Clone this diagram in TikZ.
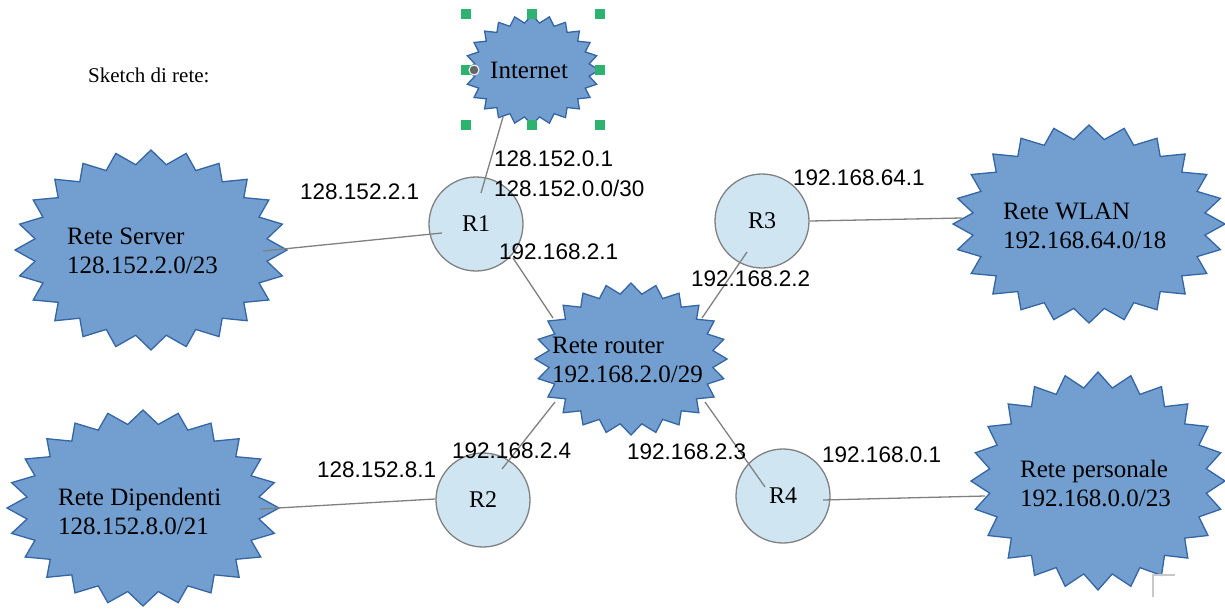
\documentclass[tikz,border=0pt]{standalone}
\usepackage{fontspec}
\setmainfont{Liberation Serif}
\newfontfamily\lsans{Liberation Sans}
\definecolor{starfill}{HTML}{729FCF}
\definecolor{starline}{HTML}{3465A4}
\definecolor{rfill}{HTML}{CFE6F2}
\definecolor{rline}{HTML}{808080}
\definecolor{wire}{HTML}{808080}
\definecolor{handle}{HTML}{2DB36F}
\definecolor{markgray}{HTML}{C8C8C8}
\newcommand\netstar[5]{%
  \begin{scope}[shift={(#1,#2)}]
  \draw[netstarline] (#3,0)
    \foreach \i in {0,...,23} { -- ({0.86*#3*cos(\i*15+7.5)},{0.86*#4*sin(\i*15+7.5)}) -- ({#3*cos(\i*15+15)},{#4*sin(\i*15+15)}) } -- cycle;
  \coordinate (#5) at (0,0);
  \end{scope}}
\newcommand\twolines[2]{\begin{tabular}[t]{@{}l@{}}#1\\#2\end{tabular}}
\tikzset{
  netstarline/.style={fill=starfill, draw=starline, line width=1.3pt, line join=miter},
  router/.style={circle, draw=rline, fill=rfill, line width=1.3pt, minimum size=94pt, inner sep=0pt, font=\fontsize{24}{28}\selectfont},
  wireline/.style={draw=wire, line width=1.3pt},
  nettext/.style={anchor=base west, inner sep=0pt, font=\fontsize{25}{29}\selectfont},
  iplabel/.style={anchor=base west, inner sep=0pt, font=\lsans\fontsize{22.5}{27}\selectfont},
  handlebox/.style={rectangle, fill=handle, minimum size=10pt, inner sep=0pt},
}
\begin{document}
\begin{tikzpicture}[x=1pt,y=-1pt]
\useasboundingbox (0,0) rectangle (1225,608);
% network stars
\netstar{532}{70}{67}{55}{inet}
\netstar{151}{250}{136}{100}{srv}
\netstar{631}{359}{96}{76}{rtr}
\netstar{1089}{224}{136}{99}{wlan}
\netstar{143}{508}{136}{98}{dip}
\netstar{1098}{481}{127}{109}{pers}
% star texts
\node[nettext] (tinet) at (490,78) {Internet};
\node[nettext] (tsrv) at (67,244) {\twolines{Rete Server}{128.152.2.0/23}};
\node[nettext] (trtr) at (552,353) {\twolines{Rete router}{192.168.2.0/29}};
\node[nettext] (twlan) at (1003,219) {\twolines{Rete WLAN}{192.168.64.0/18}};
\node[nettext] (tdip) at (58,505) {\twolines{Rete Dipendenti}{128.152.8.0/21}};
\node[nettext] (tpers) at (1020,477) {\twolines{Rete personale}{192.168.0.0/23}};
% routers
\node[router] (R1) at (476,224) {R1};
\node[router] (R3) at (762,221) {R3};
\node[router] (R2) at (483,500) {R2};
\node[router] (R4) at (783,496) {R4};
% connector ends
\coordinate (inetA) at (503,117);
\coordinate (r1A) at (481,193);
\coordinate (srvA) at (263,251);
\coordinate (r1B) at (442,233);
\coordinate (r1C) at (513,258);
\coordinate (rtrA) at (553,318);
\coordinate (r3A) at (747,252);
\coordinate (rtrB) at (702,318);
\coordinate (r3B) at (810,221);
\coordinate (wlanA) at (962,218);
\coordinate (rtrC) at (555,402);
\coordinate (r2A) at (502,469);
\coordinate (dipA) at (260,509);
\coordinate (r2B) at (435,499);
\coordinate (rtrD) at (705,402);
\coordinate (r4A) at (765,487);
\coordinate (r4B) at (823,500);
\coordinate (persA) at (985,496);
% connectors
\draw[wireline] (inetA) -- (r1A);
\draw[wireline] (srvA) -- (r1B);
\draw[wireline] (r1C) -- (rtrA);
\draw[wireline] (r3A) -- (rtrB);
\draw[wireline] (r3B) -- (wlanA);
\draw[wireline] (rtrC) -- (r2A);
\draw[wireline] (dipA) -- (r2B);
\draw[wireline] (rtrD) -- (r4A);
\draw[wireline] (r4B) -- (persA);
% address labels
\node[iplabel] (l1) at (494,166) {128.152.0.1};
\node[iplabel] (l2) at (494,196) {128.152.0.0/30};
\node[iplabel] (l3) at (300,199) {128.152.2.1};
\node[iplabel] (l4) at (499,259) {192.168.2.1};
\node[iplabel] (l5) at (793,185) {192.168.64.1};
\node[iplabel] (l6) at (691,286) {192.168.2.2};
\node[iplabel] (l7) at (452,458) {192.168.2.4};
\node[iplabel] (l8) at (317,477) {128.152.8.1};
\node[iplabel] (l9) at (627,459) {192.168.2.3};
\node[iplabel] (l10) at (822,462) {192.168.0.1};
% title
\node[anchor=base west, inner sep=0pt, font=\fontsize{21}{25}\selectfont] (title) at (88,82) {Sketch di rete:};
% selection handles around Internet
\node[handlebox] (h1) at (466,14) {};
\node[handlebox] (h2) at (532,14) {};
\node[handlebox] (h3) at (600,14) {};
\node[handlebox] (h4) at (466,70) {};
\node[handlebox] (h5) at (600,70) {};
\node[handlebox] (h6) at (466,125) {};
\node[handlebox] (h7) at (532,125) {};
\node[handlebox] (h8) at (600,125) {};
\node[circle, fill=black!60, draw=white, line width=1pt, minimum size=10pt, inner sep=0pt] (gdot) at (474,70) {};
% corner mark
\coordinate (mk1) at (1153,597);
\coordinate (mk2) at (1153,575);
\coordinate (mk3) at (1175,575);
\draw[draw=markgray, line width=1.3pt] (mk1) -- (mk2) -- (mk3);
\end{tikzpicture}
\end{document}
